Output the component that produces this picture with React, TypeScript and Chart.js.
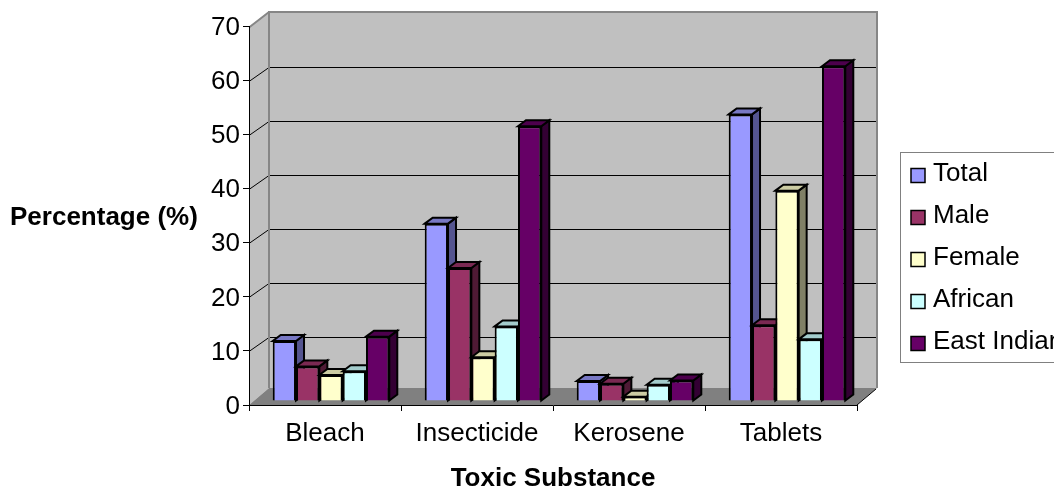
import React, { useEffect, useRef } from "react";
import { Chart, registerables } from "chart.js";

Chart.register(...registerables);

const categories = ["Bleach", "Insecticide", "Kerosene", "Tablets"];
const total = [11.1, 32.8, 3.7, 53];
const male = [6.4, 24.6, 3.2, 14];
const female = [4.8, 8.1, 0.8, 38.9];
const african = [5.5, 13.8, 3, 11.4];
const eastIndian = [11.9, 50.8, 3.8, 61.9];
const yMax = 70;
const yStep = 10;
const xTitle = "Toxic Substance";
const yTitle = "Percentage (%)";

const FONT = '"Liberation Sans", Arial, sans-serif';
const WALL = "#c0c0c0";
const WALL_EDGE = "#868686";
const FLOOR = "#808080";
const DEPTH_X = 20;
const DEPTH_Y = 14;
const BAR_SHIFT_X = 6;
const BAR_SHIFT_Y = 4;
const BAR_DEPTH_X = 8;
const BAR_DEPTH_Y = 6;

const series = [
  { label: "Total", data: total, color: "#9999ff", side: "#555590", top: "#7878c4" },
  { label: "Male", data: male, color: "#993366", side: "#4f1a35", top: "#7a2952" },
  { label: "Female", data: female, color: "#ffffcc", side: "#808066", top: "#cccca3" },
  { label: "African", data: african, color: "#ccffff", side: "#668080", top: "#a3cccc" },
  { label: "East Indian", data: eastIndian, color: "#660066", side: "#330033", top: "#4d004d" },
];

const poly = (ctx: CanvasRenderingContext2D, pts: number[][], fill?: string, stroke?: string, lw = 1) => {
  ctx.beginPath();
  pts.forEach((p, i) => (i ? ctx.lineTo(p[0], p[1]) : ctx.moveTo(p[0], p[1])));
  ctx.closePath();
  if (fill) {
    ctx.fillStyle = fill;
    ctx.fill();
  }
  if (stroke) {
    ctx.strokeStyle = stroke;
    ctx.lineWidth = lw;
    ctx.stroke();
  }
};

const scene3d = {
  id: "scene3d",
  beforeDraw(chart: any) {
    const { ctx, chartArea: a, scales } = chart;
    const y = scales.y;
    const bx = a.left + DEPTH_X;
    const bxr = a.right + DEPTH_X;
    const topY = 12;
    const botY = 388;
    ctx.save();
    poly(ctx, [[a.left, a.top + 1], [bx, topY], [bx, botY], [a.left, a.bottom]], WALL);
    poly(ctx, [[bx, topY], [bxr, topY], [bxr, botY], [bx, botY]], WALL);
    ctx.lineWidth = 1;
    y.ticks.forEach((t: any, i: number) => {
      if (t.value === 0 || t.value === yMax) return;
      const py = Math.round(y.getPixelForTick(i)) + 0.5;
      ctx.strokeStyle = "#000";
      ctx.beginPath();
      ctx.moveTo(a.left, py);
      ctx.lineTo(bx, py - DEPTH_Y);
      ctx.lineTo(bxr, py - DEPTH_Y);
      ctx.stroke();
    });
    poly(ctx, [[a.left, a.bottom], [bx, botY], [bxr, botY], [a.right, a.bottom]], FLOOR);
    ctx.strokeStyle = WALL_EDGE;
    ctx.lineWidth = 2;
    ctx.beginPath();
    ctx.moveTo(bx, botY);
    ctx.lineTo(bx, topY);
    ctx.lineTo(bxr, topY);
    ctx.lineTo(bxr, botY);
    ctx.moveTo(a.left, a.top + 1);
    ctx.lineTo(bx, topY);
    ctx.stroke();
    ctx.lineWidth = 1;
    ctx.strokeStyle = "#000";
    ctx.beginPath();
    ctx.moveTo(a.right, a.bottom);
    ctx.lineTo(bxr - 1, botY + 1);
    ctx.stroke();
    ctx.restore();
  },
  beforeDatasetDraw() {
    return false;
  },
  afterDatasetsDraw(chart: any) {
    const { ctx } = chart;
    series.forEach((s, i) => {
      const meta = chart.getDatasetMeta(i);
      ctx.save();
      ctx.translate(BAR_SHIFT_X, -BAR_SHIFT_Y);
      meta.data.forEach((el: any) => {
        const { x, y, base, width } = el.getProps(["x", "y", "base", "width"], true);
        const l = x - width / 2;
        const r = x + width / 2;
        const dx = BAR_DEPTH_X;
        const dy = BAR_DEPTH_Y;
        poly(ctx, [[r, y], [r + dx, y - dy], [r + dx, base - dy], [r, base]], s.side, "#000", 2);
        poly(ctx, [[l, y], [l + dx, y - dy], [r + dx, y - dy], [r, y]], s.top, "#000", 2);
      });
      meta.controller.draw();
      ctx.restore();
    });
  },
  afterDraw(chart: any) {
    const { ctx } = chart;
    ctx.save();
    ctx.fillStyle = "#000";
    ctx.textBaseline = "middle";
    ctx.textAlign = "left";
    ctx.font = `bold 26px ${FONT}`;
    ctx.fillText(yTitle, 10, 218);
    ctx.textAlign = "center";
    ctx.fillText(xTitle, 553, 479);
    // legend frame and entries
    ctx.fillStyle = "#fff";
    ctx.strokeStyle = "#808080";
    ctx.lineWidth = 1;
    ctx.fillRect(900.5, 152.5, 160, 210);
    ctx.strokeRect(900.5, 152.5, 160, 210);
    ctx.textAlign = "left";
    ctx.font = `26px ${FONT}`;
    series.forEach((s, i) => {
      const step = i * 42;
      ctx.fillStyle = s.color;
      ctx.strokeStyle = "#000";
      ctx.lineWidth = 1.5;
      ctx.fillRect(911, 168.5 + step, 14, 14);
      ctx.strokeRect(911, 168.5 + step, 14, 14);
      ctx.fillStyle = "#000";
      ctx.fillText(s.label, 933, 174 + step);
    });
    ctx.restore();
  },
};

export default function App() {
  const ref = useRef<HTMLCanvasElement>(null);
  useEffect(() => {
    const chart = new Chart(ref.current!, {
      type: "bar",
      data: {
        labels: categories,
        datasets: series.map((s) => ({
          label: s.label,
          data: s.data,
          backgroundColor: s.color,
          borderColor: "#000",
          borderWidth: 2,
          barPercentage: 1,
          categoryPercentage: 0.767,
        })),
      },
      options: {
        responsive: false,
        animation: false,
        devicePixelRatio: 1,
        layout: { padding: { left: 169, right: 197, top: 26.5, bottom: 34 } },
        plugins: { legend: { display: false }, tooltip: { enabled: false }, title: { display: false } },
        scales: {
          x: {
            afterFit: (s: any) => { s.height = 50; },
            grid: { drawOnChartArea: false, drawTicks: true, tickLength: 6, color: "#000", offset: true },
            border: { display: true, color: "#000", width: 1 },
            ticks: { color: "#000", font: { family: FONT, size: 26 }, padding: 7, maxRotation: 0, autoSkip: false },
          },
          y: {
            min: 0,
            max: yMax,
            afterFit: (s: any) => { s.width = 80; },
            grid: { drawOnChartArea: false, drawTicks: true, tickLength: 6, color: "#000" },
            border: { display: true, color: "#000", width: 1 },
            ticks: { color: "#000", stepSize: yStep, font: { family: FONT, size: 26 }, padding: 3, labelOffset: 1.5 },
          },
        },
      },
      plugins: [scene3d],
    } as any);
    return () => chart.destroy();
  }, []);
  return (
    <div style={{ position: "fixed", left: 0, top: 0, width: 1054, height: 489, overflow: "hidden", background: "#fff" }}>
      <canvas ref={ref} width={1054} height={489} style={{ display: "block" }} />
    </div>
  );
}
